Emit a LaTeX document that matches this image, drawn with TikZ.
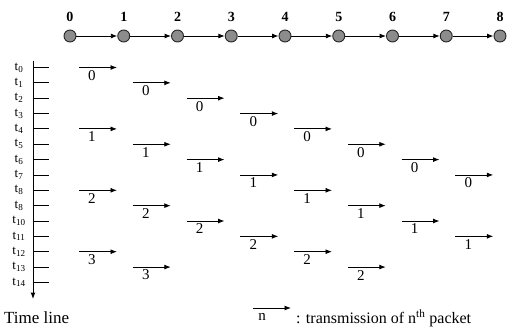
\documentclass[tikz,border=0pt]{standalone}
\usepackage{fontspec}
\setmainfont{Liberation Serif}
\usepackage{tikz}
\usetikzlibrary{arrows.meta}
\tikzset{
  hopnode/.style={circle, minimum size=12pt, inner sep=0pt, fill=black!45, draw=black!85, line width=0.9pt},
  hoplink/.style={-{Latex[length=6.5pt,width=5pt]}, line width=0.9pt},
  toplabel/.style={inner sep=0pt, font=\fontsize{14}{14}\selectfont\bfseries},
  axisline/.style={-{Latex[length=6.5pt,width=5pt]}, line width=1pt},
  timetick/.style={line width=0.9pt},
  tlabel/.style={inner sep=0pt, font=\fontsize{13}{13}\selectfont},
  txarrow/.style={-{Latex[length=6.5pt,width=5pt]}, line width=0.9pt},
  txlabel/.style={inner sep=0pt, font=\fontsize{15}{15}\selectfont},
  legendtext/.style={inner sep=0pt, font=\fontsize{17}{17}\selectfont}
}

\begin{document}
\begin{tikzpicture}[x=1pt,y=-1pt]
\useasboundingbox (0,0) rectangle (507,335);

% stations on the route
\foreach \i in {0,...,8}{
  \node[hopnode] (n\i) at ({70+53.75*\i},36) {};
  \node[toplabel] (l\i) at ({70+53.75*\i},17) {\i};
}
\foreach \i [count=\j] in {0,...,7}
  \draw[hoplink] (n\i) -- (n\j);

% time line with its ticks
\coordinate (axtop) at (33,61);
\coordinate (axbot) at (33,299);
\draw[axisline] (axtop) -- (axbot);
\foreach \k/\s in {0/0,1/1,2/2,3/3,4/4,5/5,6/6,7/7,8/8,9/8,10/10,11/11,12/12,13/13,14/14}{
  \coordinate (tk\k) at (33,{67.5+15.35*\k});
  \coordinate (te\k) at (49,{67.5+15.35*\k});
  \draw[timetick] (tk\k) -- (te\k);
  \node[tlabel] (t\k) at (19,{67.5+15.35*\k}) {t\textsubscript{\s}};
}

% packet p on hop h at time t(4p+h)
\foreach \p/\last in {0/7,1/7,2/5,3/1}
  \foreach \h in {0,...,\last}{
    \pgfmathsetmacro\ty{67.5+15.35*(4*\p+\h)}
    \pgfmathsetmacro\tx{79+53.75*\h}
    \coordinate (s\p\h) at (\tx,\ty);
    \coordinate (e\p\h) at (\tx+38,\ty);
    \draw[txarrow] (s\p\h) -- (e\p\h);
    \node[txlabel] (p\p\h) at (\tx+13,\ty+8) {\p};
  }

% legend
\node[legendtext, anchor=west] (timeline) at (4,318) {Time line};
\coordinate (lgs) at (253,308);
\coordinate (lge) at (291,308);
\draw[txarrow] (lgs) -- (lge);
\node[txlabel] (lgn) at (262,317) {n};
\node[legendtext, anchor=west, font=\fontsize{16}{16}\selectfont] (lgtext) at (296,318) {: transmission of n\textsuperscript{th} packet};
\end{tikzpicture}
\end{document}
